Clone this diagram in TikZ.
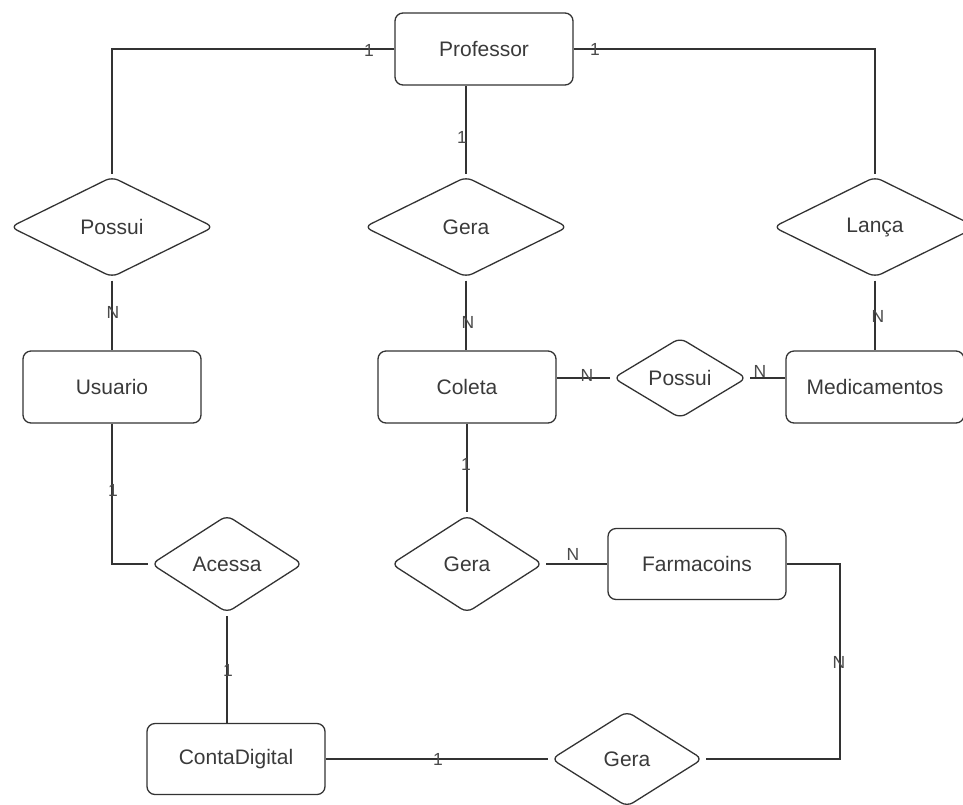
\documentclass[tikz,border=0pt]{standalone}
\usepackage{fontspec}
\setmainfont{Liberation Sans}
\usetikzlibrary{shapes.geometric}
\definecolor{ln}{HTML}{333333}
\definecolor{tx}{HTML}{3A3A3A}
\definecolor{cdc}{HTML}{4A4A4A}
\begin{document}
\begin{tikzpicture}[x=1pt,y=-1pt,
  ent/.style={draw=ln, line width=1.3pt, rounded corners=8pt, minimum width=178pt, minimum height=72pt, inner sep=0pt, text=tx, font=\fontsize{21}{25}\selectfont},
  rel/.style={draw=ln, line width=1.3pt, diamond, rounded corners=7pt, inner sep=0pt, outer sep=2.5pt, text=tx, font=\fontsize{21}{25}\selectfont},
  bigrel/.style={rel, minimum width=205pt, minimum height=102pt},
  smallrel/.style={rel, minimum width=153pt, minimum height=99pt},
  conn/.style={draw=ln, line width=1.3pt},
  card/.style={text=cdc, font=\fontsize{17.5}{20}\selectfont, inner sep=0pt}]
\useasboundingbox (0,0) rectangle (963,804);
\clip (0,0) rectangle (963,804);
% entities
\node[ent] (prof) at (484,49) {Professor};
\node[ent] (usu) at (112,387) {Usuario};
\node[ent] (col) at (467,387) {Coleta};
\node[ent] (med) at (875,387) {Medicamentos};
\node[ent, minimum height=71pt] (farm) at (697,564) {Farmacoins};
\node[ent, minimum height=71pt] (cdig) at (236,759) {ContaDigital};
% relationships
\node[bigrel] (pos1) at (112,227) {Possui};
\node[bigrel] (ger1) at (466,227) {Gera};
\node[bigrel] (lan) at (875,227) {Lança};
\node[rel, minimum width=135pt, minimum height=82pt] (pos2) at (680,378) {Possui};
\node[smallrel] (ace) at (227,564) {Acessa};
\node[smallrel] (ger2) at (467,564) {Gera};
\node[smallrel, minimum height=97pt] (ger3) at (627,759) {Gera};
\coordinate (fk) at (840,564);
% connectors
\draw[conn] (prof.west) -| (pos1.north);
\draw[conn] (prof.east) -| (lan.north);
\draw[conn] (ger1.north) -- (ger1.north |- prof.south);
\draw[conn] (pos1.south) -- (pos1.south |- usu.north);
\draw[conn] (ger1.south) -- (ger1.south |- col.north);
\draw[conn] (lan.south) -- (lan.south |- med.north);
\draw[conn] (pos2.west) -- (pos2.west -| col.east);
\draw[conn] (pos2.east) -- (pos2.east -| med.west);
\draw[conn] (usu.south) |- (ace.west);
\draw[conn] (col.south) -- (col.south |- ger2.north);
\draw[conn] (ger2.east) -- (farm.west);
\draw[conn] (farm.east) -- (fk) |- (ger3.east);
\draw[conn] (ace.south) -- (ace.south |- cdig.north);
\draw[conn] (cdig.east) -- (ger3.west);
% cardinalities
\node[card] (c1) at (369,50) {1};
\node[card] (c2) at (595,49) {1};
\node[card] (c3) at (462,137) {1};
\node[card] (c4) at (113,312) {N};
\node[card] (c5) at (468,322) {N};
\node[card] (c6) at (878,316) {N};
\node[card] (c7) at (587,375) {N};
\node[card] (c8) at (760,371) {N};
\node[card] (c9) at (113,490) {1};
\node[card] (c10) at (466,464) {1};
\node[card] (c11) at (573,554) {N};
\node[card] (c12) at (839,662) {N};
\node[card] (c13) at (228,670) {1};
\node[card] (c14) at (438,759) {1};
\end{tikzpicture}
\end{document}
